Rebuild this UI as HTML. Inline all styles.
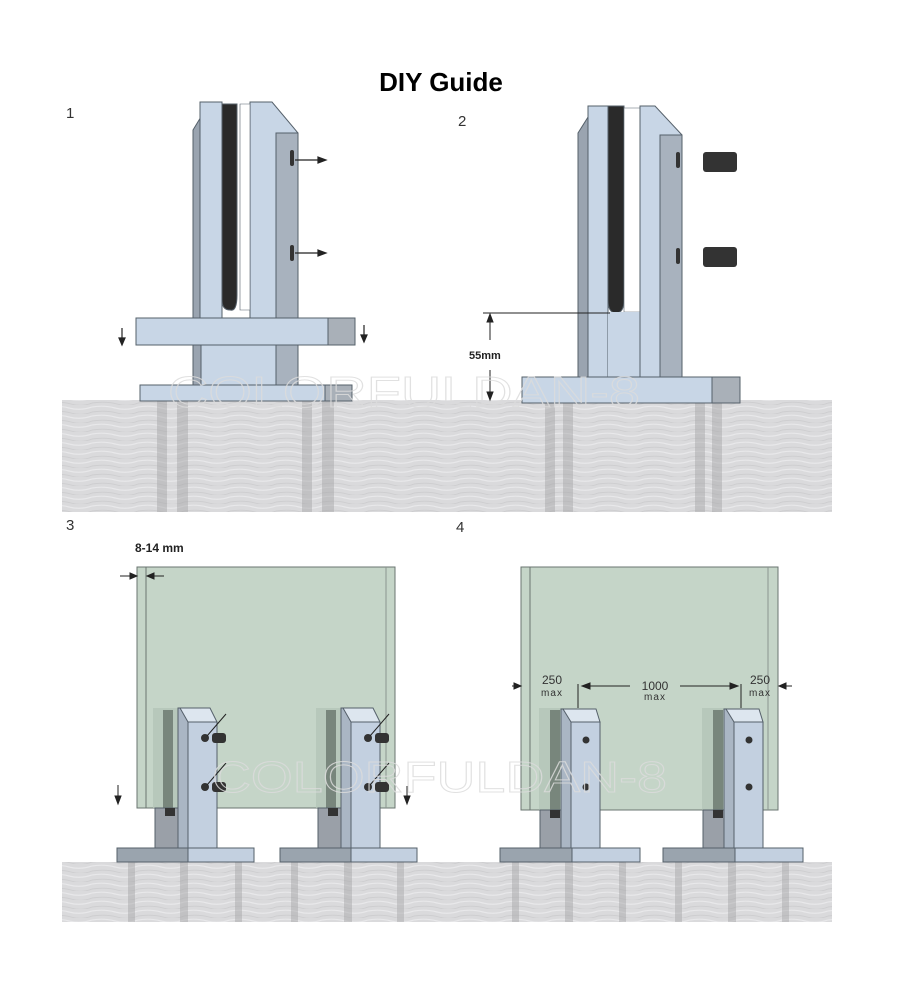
<!DOCTYPE html>
<html><head><meta charset="utf-8"><style>
html,body{margin:0;padding:0;background:#fff;}
svg{display:block;}
text{font-family:"Liberation Sans",sans-serif;}
</style></head><body>
<svg width="900" height="1000" viewBox="0 0 900 1000" xmlns="http://www.w3.org/2000/svg">
<defs>
<pattern id="stone" width="46" height="9" patternUnits="userSpaceOnUse">
<rect width="46" height="9" fill="#dadadc"/>
<path d="M0 2 Q12 0 23 3 T46 2" stroke="#e8e8ea" stroke-width="1.2" fill="none"/>
<path d="M0 7 Q14 5 25 8 T46 7" stroke="#cdcdcf" stroke-width="0.9" fill="none"/>
</pattern>
</defs>
<rect width="900" height="1000" fill="#fff"/>
<text x="441" y="91" font-size="26" font-weight="bold" text-anchor="middle">DIY Guide</text>
<text x="66" y="118" font-size="15" fill="#333">1</text>
<text x="458" y="126" font-size="15" fill="#333">2</text>
<text x="66" y="530" font-size="15" fill="#333">3</text>
<text x="456" y="532" font-size="15" fill="#333">4</text>

<!-- ground 1 -->
<rect x="62" y="400" width="770" height="112" fill="url(#stone)"/>
<g fill="#a4a4a6" opacity="0.45">
<rect x="157" y="400" width="10" height="112"/><rect x="177" y="400" width="11" height="112"/>
<rect x="302" y="400" width="10" height="112"/><rect x="322" y="400" width="12" height="112"/>
<rect x="545" y="400" width="10" height="112"/><rect x="563" y="400" width="10" height="112"/>
<rect x="695" y="400" width="10" height="112"/><rect x="712" y="400" width="10" height="112"/>
</g>

<!-- panel 1 post -->
<g stroke="#55606a" stroke-width="1">
<polygon points="193,130 210,102 222,102 222,345 193,345" fill="#9aa4b0"/>
<rect x="200" y="102" width="22" height="243" fill="#c8d6e6"/>
<path d="M222 104 H237 V295 Q237 312 230 310 Q222 310 222 300 Z" fill="#2a2a2a"/>
<path d="M250 102 H272 L298 133 V345 H250 Z" fill="#c8d6e6"/>
<rect x="276" y="133" width="22" height="212" fill="#a8b2be"/>
<path d="M240 104 H250 V310 H240 Z" fill="#fff" stroke-width="0.6"/>
<rect x="193" y="345" width="105" height="40" fill="#c8d6e6"/>
<rect x="193" y="345" width="8" height="40" fill="#9aa4b0"/>
<rect x="276" y="345" width="22" height="40" fill="#a8b2be"/>
<rect x="136" y="318" width="192" height="27" fill="#c8d6e6"/>
<rect x="328" y="318" width="27" height="27" fill="#a9b0b8"/>
<rect x="140" y="385" width="185" height="16" fill="#c8d6e6"/>
<rect x="325" y="385" width="27" height="16" fill="#a9b0b8"/>
</g>
<g fill="#333"><rect x="290" y="150" width="4" height="16" rx="2"/><rect x="290" y="245" width="4" height="16" rx="2"/></g>
<g stroke="#222" stroke-width="1.2" fill="#222">
<line x1="295" y1="160" x2="318" y2="160"/><polygon points="318,157 326,160 318,163"/>
<line x1="295" y1="253" x2="318" y2="253"/><polygon points="318,250 326,253 318,256"/>
<line x1="122" y1="328" x2="122" y2="338"/><polygon points="119,338 122,345 125,338"/>
<line x1="364" y1="325" x2="364" y2="335"/><polygon points="361,335 364,342 367,335"/>
</g>

<!-- panel 2 post -->
<g stroke="#55606a" stroke-width="1">
<polygon points="578,133 595,106 608,106 608,377 578,377" fill="#9aa4b0"/>
<rect x="588" y="106" width="20" height="271" fill="#c8d6e6"/>
<path d="M608 106 H624 V300 Q624 313 616 313 Q608 313 608 300 Z" fill="#2a2a2a"/>
<path d="M624 108 H640 V312 H624 Z" fill="#fff" stroke-width="0.6"/>
<rect x="608" y="312" width="32" height="65" fill="#c8d6e6" stroke="none"/>
<path d="M640 106 H655 L682 135 V377 H640 Z" fill="#c8d6e6"/>
<rect x="660" y="135" width="22" height="242" fill="#a8b2be"/>
<rect x="522" y="377" width="190" height="26" fill="#c8d6e6"/>
<rect x="712" y="377" width="28" height="26" fill="#a9b0b8"/>
</g>
<g fill="#333"><rect x="676" y="152" width="4" height="16" rx="2"/><rect x="676" y="248" width="4" height="16" rx="2"/></g>
<g fill="#333"><rect x="703" y="152" width="34" height="20" rx="3"/><rect x="703" y="247" width="34" height="20" rx="3"/></g>
<g stroke="#222" stroke-width="1" fill="#222">
<line x1="483" y1="313" x2="610" y2="313"/>
<line x1="490" y1="320" x2="490" y2="340"/><polygon points="487,322 490,314 493,322"/>
<line x1="490" y1="370" x2="490" y2="394"/><polygon points="487,392 490,400 493,392"/>
</g>
<text x="469" y="359" font-size="11" font-weight="bold" fill="#222">55mm</text>

<!-- ground 2 -->
<rect x="62" y="862" width="770" height="60" fill="url(#stone)"/>
<g fill="#a4a4a6" opacity="0.45">
<rect x="128" y="862" width="7" height="60"/><rect x="180" y="862" width="8" height="60"/><rect x="235" y="862" width="7" height="60"/>
<rect x="291" y="862" width="7" height="60"/><rect x="344" y="862" width="8" height="60"/><rect x="397" y="862" width="7" height="60"/>
<rect x="512" y="862" width="7" height="60"/><rect x="565" y="862" width="8" height="60"/><rect x="619" y="862" width="7" height="60"/>
<rect x="675" y="862" width="7" height="60"/><rect x="728" y="862" width="8" height="60"/><rect x="782" y="862" width="7" height="60"/>
</g>

<!-- panel 3 glass -->
<rect x="137" y="567" width="258" height="241" fill="#c5d5c8" stroke="#6a7570" stroke-width="1"/>
<line x1="146" y1="567" x2="146" y2="808" stroke="#6a7570"/>
<line x1="386" y1="567" x2="386" y2="808" stroke="#8a9590"/>
<text x="135" y="552" font-size="12" font-weight="bold" fill="#222">8-14 mm</text>
<g stroke="#222" stroke-width="1" fill="#222">
<line x1="120" y1="576" x2="132" y2="576"/><polygon points="130,573 137,576 130,579"/>
<line x1="152" y1="576" x2="164" y2="576"/><polygon points="154,573 147,576 154,579"/>
<line x1="118" y1="785" x2="118" y2="798"/><polygon points="115,796 118,804 121,796"/>
<line x1="407" y1="786" x2="407" y2="798"/><polygon points="404,796 407,804 410,796"/>
</g>

<!-- panel 4 glass -->
<rect x="521" y="567" width="257" height="243" fill="#c5d5c8" stroke="#6a7570" stroke-width="1"/>
<line x1="530" y1="567" x2="530" y2="810" stroke="#6a7570"/>
<line x1="768" y1="567" x2="768" y2="810" stroke="#8a9590"/>
<g stroke="#222" stroke-width="1" fill="#222">
<line x1="512" y1="686" x2="516" y2="686"/><polygon points="514,683 521,686 514,689"/>
<line x1="578" y1="684" x2="578" y2="708"/>
<line x1="583" y1="686" x2="630" y2="686"/><polygon points="590,683 582,686 590,689"/>
<line x1="680" y1="686" x2="735" y2="686"/><polygon points="730,683 738,686 730,689"/>
<line x1="741" y1="684" x2="741" y2="708"/>
<line x1="784" y1="686" x2="792" y2="686"/><polygon points="786,683 779,686 786,689"/>
</g>
<g font-size="12" fill="#333" text-anchor="middle">
<text x="552" y="684">250</text><text x="552" y="696" font-size="10" letter-spacing="1">max</text>
<text x="655" y="690">1000</text><text x="655" y="700" font-size="10" letter-spacing="1">max</text>
<text x="760" y="684">250</text><text x="760" y="696" font-size="10" letter-spacing="1">max</text>
</g>

<!-- posts panel3 -->
<g id="p3">
<g stroke="#55606a" stroke-width="1">
<rect x="153" y="708" width="25" height="100" fill="#b3c4b8" stroke="none" opacity="0.8"/>
<rect x="163" y="710" width="10" height="98" fill="#78867c" stroke="none"/>
<rect x="155" y="808" width="28" height="40" fill="#9aa0a8"/>
<rect x="165" y="808" width="10" height="8" fill="#333" stroke="none"/>
<rect x="178" y="708" width="10" height="140" fill="#aab6c4"/>
<polygon points="180,708 210,708 217,722 188,722" fill="#dde6ef"/>
<rect x="188" y="722" width="29" height="126" fill="#c3d0e0"/>
<rect x="117" y="848" width="71" height="14" fill="#9aa4ae"/>
<rect x="188" y="848" width="66" height="14" fill="#c3d0e0"/>
</g>
<g fill="#333"><circle cx="205" cy="738" r="4"/><rect x="212" y="733" width="14" height="10" rx="3"/><circle cx="205" cy="787" r="4"/><rect x="212" y="782" width="14" height="10" rx="3"/></g>
<g stroke="#222" stroke-width="1"><line x1="207" y1="736" x2="226" y2="714"/><line x1="207" y1="785" x2="226" y2="763"/></g>
</g>
<use href="#p3" transform="translate(163,0)"/>

<!-- posts panel4 -->
<g id="p4">
<g stroke="#55606a" stroke-width="1">
<rect x="539" y="708" width="25" height="102" fill="#b3c4b8" stroke="none" opacity="0.8"/>
<rect x="550" y="710" width="10" height="100" fill="#78867c" stroke="none"/>
<rect x="540" y="810" width="28" height="38" fill="#9aa0a8"/>
<rect x="550" y="810" width="10" height="8" fill="#333" stroke="none"/>
<rect x="561" y="709" width="10" height="139" fill="#aab6c4"/>
<polygon points="563,709 596,709 600,722 571,722" fill="#dde6ef"/>
<rect x="571" y="722" width="29" height="126" fill="#c3d0e0"/>
<rect x="500" y="848" width="72" height="14" fill="#9aa4ae"/>
<rect x="572" y="848" width="68" height="14" fill="#c3d0e0"/>
</g>
<g fill="#333"><circle cx="586" cy="740" r="3.5"/><circle cx="586" cy="787" r="3.5"/></g>
</g>
<use href="#p4" transform="translate(163,0)"/>

<!-- watermarks -->
<g font-size="44" fill="none" stroke="#dcdcdc" stroke-width="1" opacity="0.85">
<text x="168" y="407" textLength="472" lengthAdjust="spacingAndGlyphs">COLORFULDAN-8</text>
<text x="212" y="792" textLength="455" lengthAdjust="spacingAndGlyphs">COLORFULDAN-8</text>
</g>
</svg>
</body></html>
